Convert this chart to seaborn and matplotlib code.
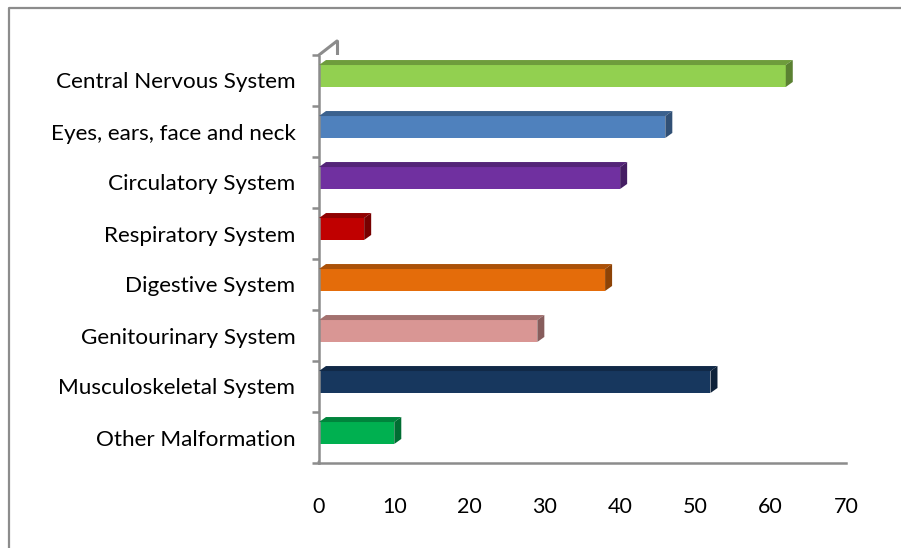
import matplotlib
matplotlib.use("Agg")
import numpy as np
import matplotlib.pyplot as plt
import matplotlib.transforms as mtransforms
import matplotlib.colors as mcolors
from matplotlib.patches import Polygon
from matplotlib.lines import Line2D
import seaborn as sns

categories = ['Central Nervous System', 'Eyes, ears, face and neck', 'Circulatory System',
              'Respiratory System', 'Digestive System', 'Genitourinary System',
              'Musculoskeletal System', 'Other Malformation']
counts = [62, 46, 40, 6, 38, 29, 52, 10]
bar_colors = ['#92D050', '#4F81BD', '#7030A0', '#C00000', '#E46C0A', '#D99694', '#17375E', '#00B050']
x_ticks = [0, 10, 20, 30, 40, 50, 60, 70]

sns.set_theme(style="white")
plt.rcParams['font.family'] = ['Lato', 'DejaVu Sans']

W, H = 901, 548
gray = '#8C8C8C'

fig = plt.figure(figsize=(W / 100, H / 100), dpi=100)
ax = fig.add_axes([319 / W, 1 - 463 / H, 527 / W, 408 / H])

sns.barplot(x=counts, y=categories, hue=categories, palette=bar_colors, legend=False,
            width=0.43, saturation=1, orient='h', ax=ax)

ax.set_xlim(0, 70)
ax.set_ylim(7.5, -0.5)
ax.set_xticks(x_ticks)
ax.set_yticks(np.arange(-0.5, 8, 1), minor=True)
ax.set_xlabel('')
ax.set_ylabel('')

for side in ['top', 'right']:
    ax.spines[side].set_visible(False)
for side in ['left', 'bottom']:
    ax.spines[side].set_color(gray)
    ax.spines[side].set_linewidth(1.8)
    ax.spines[side].set_zorder(5)

ax.tick_params(axis='x', length=6, width=1.8, color=gray, labelsize=15.5, pad=18.5, labelcolor='black')
ax.tick_params(axis='y', which='major', length=0, labelsize=16.2, pad=17, labelcolor='black')
ax.tick_params(axis='y', which='minor', length=5, width=1.8, color=gray, left=True)

# 3D look: lift bars a little and add darker top/side faces
shift = mtransforms.ScaledTranslation(0, 0.045, fig.dpi_scale_trans)
trans = ax.transData + shift
dx, dy = 7, 5
for patch, col in zip(ax.patches, bar_colors):
    patch.set_transform(trans)
    patch.set_edgecolor('none')
    x0, y0 = patch.get_x(), patch.get_y()
    w, h = patch.get_width(), patch.get_height()
    (xl, ya), (xr, yb) = trans.transform([[x0, y0], [x0 + w, y0 + h]])
    yt, ybot = max(ya, yb), min(ya, yb)
    rgb = np.array(mcolors.to_rgb(col))
    top = Polygon([(xl, yt), (xr, yt), (xr + dx, yt + dy), (xl + dx, yt + dy)],
                  closed=True, facecolor=rgb * 0.75, edgecolor='none',
                  transform=mtransforms.IdentityTransform(), clip_on=False)
    side = Polygon([(xr, ybot), (xr, yt), (xr + dx, yt + dy), (xr + dx, ybot + dy)],
                   closed=True, facecolor=rgb * 0.62, edgecolor='none',
                   transform=mtransforms.IdentityTransform(), clip_on=False)
    fig.add_artist(top)
    fig.add_artist(side)

# back wall lines of the 3D frame
def fig_line(xs, ys, lw=2.2):
    fig.add_artist(Line2D([x / W for x in xs], [1 - y / H for y in ys],
                          color=gray, linewidth=lw, transform=fig.transFigure, zorder=0))

fig_line([319, 337], [55, 41])
fig_line([337, 337], [41, 447])
fig_line([319, 337], [462, 447])

# chart border (top and left edges visible)
fig_line([9, 9, 901], [548, 8, 8], lw=1.6)

fig.savefig('out.png', dpi=100)
